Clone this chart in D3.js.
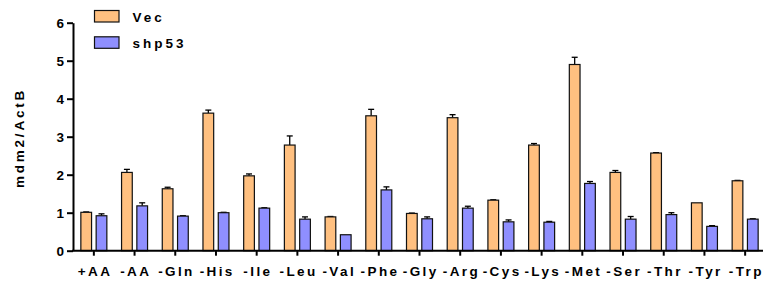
<!DOCTYPE html>
<meta charset="utf-8">
<style>
body { margin: 0; background: #fff; }
text { font-family: "Liberation Sans", Arial, sans-serif; font-weight: bold; fill: #000; }
.axis path, .axis line { stroke: #000; stroke-width: 2; }
.axis text { font-size: 13.5px; letter-spacing: 2.4px; }
.bar { stroke: #111; stroke-width: 1.2; }
.err { stroke: #000; stroke-width: 1.3; }
</style>
<svg id="svg" width="763" height="282"></svg>
<script src="https://d3js.org/d3.v7.min.js"></script>
<script>
var categories = ["+AA", "-AA", "-Gln", "-His", "-Ile", "-Leu", "-Val", "-Phe", "-Gly",
                  "-Arg", "-Cys", "-Lys", "-Met", "-Ser", "-Thr", "-Tyr", "-Trp"];
var seriesNames = ["Vec", "shp53"];
var vecValues = [1.01, 2.06, 1.63, 3.62, 1.97, 2.78, 0.89, 3.55, 0.98, 3.50, 1.33, 2.78, 4.90, 2.06, 2.57, 1.26, 1.84];
var vecErrors = [0.01, 0.08, 0.04, 0.08, 0.05, 0.24, 0.01, 0.17, 0.01, 0.08, 0.01, 0.04, 0.19, 0.05, 0.01, 0.00, 0.01];
var shpValues = [0.92, 1.18, 0.91, 1.00, 1.12, 0.83, 0.42, 1.60, 0.84, 1.12, 0.76, 0.75, 1.77, 0.83, 0.95, 0.64, 0.83];
var shpErrors = [0.05, 0.08, 0.01, 0.01, 0.01, 0.06, 0.00, 0.08, 0.05, 0.05, 0.05, 0.02, 0.05, 0.07, 0.05, 0.02, 0.01];
var yTicks = [0, 1, 2, 3, 4, 5, 6];
var colors = ["#ffc080", "#8f8fff"];

var svg = d3.select("svg");

var x = d3.scaleBand().domain(categories).range([73.5, 765.5]).paddingInner(0).paddingOuter(0);
var xs = d3.scaleBand().domain(seriesNames).range([-13, 13]).paddingInner(0.3).paddingOuter(0);
var y = d3.scaleLinear().domain([0, 6]).range([250.7, 22.7]);

var rows = categories.map(function(c, i) {
  return {cat: c, vals: [
    {s: "Vec", v: vecValues[i], e: vecErrors[i]},
    {s: "shp53", v: shpValues[i], e: shpErrors[i]}
  ]};
});

// bars
var groups = svg.selectAll("g.grp")
  .data(rows)
  .enter().append("g")
  .attr("class", "grp")
  .attr("transform", function(d) { return "translate(" + (x(d.cat) + x.bandwidth() / 2) + ",0)"; });

var items = groups.selectAll("g.item")
  .data(function(d) { return d.vals; })
  .enter().append("g").attr("class", "item");

// error bars (upper only)
items.filter(function(d) { return d.e > 0; }).each(function(d) {
  var g = d3.select(this), cx = xs(d.s) + xs.bandwidth() / 2;
  g.append("line").attr("class", "err")
    .attr("x1", cx).attr("x2", cx).attr("y1", y(d.v)).attr("y2", y(d.v + d.e));
  g.append("line").attr("class", "err")
    .attr("x1", cx - 3).attr("x2", cx + 3).attr("y1", y(d.v + d.e)).attr("y2", y(d.v + d.e));
});

items.append("rect")
  .attr("class", "bar")
  .attr("x", function(d) { return xs(d.s); })
  .attr("width", xs.bandwidth())
  .attr("y", function(d) { return y(d.v); })
  .attr("height", function(d) { return y(0) - y(d.v); })
  .attr("fill", function(d, i) { return colors[seriesNames.indexOf(d.s)]; });

// y axis
svg.append("g")
  .attr("class", "axis")
  .attr("transform", "translate(73,0)")
  .call(d3.axisLeft(y).tickValues(yTicks).tickFormat(d3.format("d")).tickSize(6).tickSizeOuter(0).tickPadding(3))
  .selectAll("text").style("letter-spacing", "0px").style("font-size", "13.5px");

// x axis
var xAxis = svg.append("g")
  .attr("class", "axis")
  .attr("transform", "translate(0," + y(0) + ")")
  .call(d3.axisBottom(x).tickSize(5).tickSizeOuter(0).tickPadding(11));
xAxis.select(".domain").attr("d", "M72,0H763");
xAxis.selectAll("text").attr("dx", "1.2px");

// y label
svg.append("text")
  .attr("transform", "translate(24,138) rotate(-90)")
  .attr("text-anchor", "middle")
  .style("font-size", "13.5px")
  .style("letter-spacing", "2.8px")
  .text("mdm2/ActB");

// legend
var legend = svg.selectAll("g.leg")
  .data(seriesNames)
  .enter().append("g")
  .attr("class", "leg")
  .attr("transform", function(d, i) { return "translate(94.5," + (10.5 + i * 26.3) + ")"; });
legend.append("rect")
  .attr("width", 24.5).attr("height", 11.5)
  .attr("fill", function(d, i) { return colors[i]; })
  .attr("stroke", "#111").attr("stroke-width", 1.2);
legend.append("text")
  .attr("x", 38).attr("y", 11.5)
  .style("font-size", "13.5px")
  .style("letter-spacing", "3px")
  .text(function(d) { return d; });
</script>
